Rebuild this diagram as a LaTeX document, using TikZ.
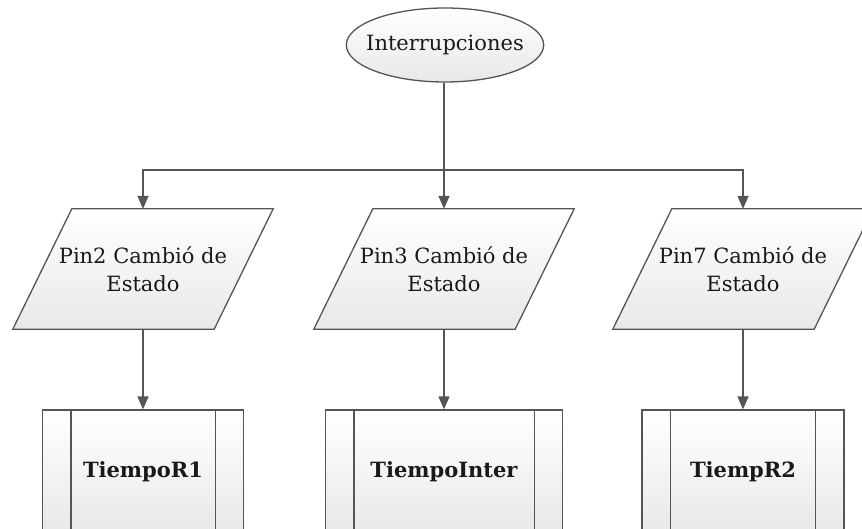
\documentclass[tikz,border=0pt]{standalone}
\usepackage{fontspec}
\setmainfont{DejaVu Serif}
\usetikzlibrary{shapes.geometric,arrows.meta,backgrounds}
\definecolor{linegray}{RGB}{85,85,85}
\definecolor{txt}{RGB}{25,25,25}
\begin{document}
\begin{tikzpicture}[x=1pt,y=-1pt,
  shaded/.style={draw=linegray, line width=1.3pt, top color=white, bottom color=black!9},
  base/.style={shaded, inner sep=0pt, text=txt, font=\fontsize{21}{28}\selectfont},
  ellip/.style={base, ellipse, inner xsep=-9pt, minimum width=196pt, minimum height=74pt},
  para/.style={rectangle, inner sep=0pt, text=txt, font=\fontsize{21}{28}\selectfont, minimum width=201pt, minimum height=120pt, align=center},
  proc/.style={base, rectangle, minimum height=124pt, font=\fontsize{21}{28}\selectfont\bfseries},
  ln/.style={draw=linegray, line width=1.5pt},
  arr/.style={ln, -{Triangle[length=13pt,width=11pt]}}
]
\useasboundingbox (0,0) rectangle (862,529);
\clip (0,0) rectangle (862,529);

\node[ellip] (int) at (445,45) {Interrupciones};

\node[para] (p1) at (143,269) {Pin2 Cambió de\\Estado};
\node[para] (p2) at (444,269) {Pin3 Cambió de\\Estado};
\node[para] (p3) at (743,269) {Pin7 Cambió de\\Estado};

\begin{pgfonlayer}{background}
\foreach \p in {p1,p2,p3}{
  \draw[shaded] ([xshift=29.5pt]\p.north west) -- ([xshift=29.5pt]\p.north east)
    -- ([xshift=-29.5pt]\p.south east) -- ([xshift=-29.5pt]\p.south west) -- cycle;
}
\end{pgfonlayer}

\node[proc, minimum width=201pt] (b1) at (143,472) {TiempoR1};
\node[proc, minimum width=237pt] (b2) at (444,472) {TiempoInter};
\node[proc, minimum width=202pt] (b3) at (743,472) {TiempR2};

\foreach \b in {b1,b2,b3}{
  \draw[draw=linegray, line width=1.3pt] ([xshift=29pt]\b.north west) -- ([xshift=29pt]\b.south west);
  \draw[draw=linegray, line width=1.3pt] ([xshift=-29pt]\b.north east) -- ([xshift=-29pt]\b.south east);
}

\coordinate (j) at (444,170);
\draw[ln] (int.south -| j) -- (j);
\draw[arr] (j) -| (p1.north);
\draw[arr] (j) -- (p2.north);
\draw[arr] (j) -| (p3.north);

\draw[arr] (p1.south) -- (b1.north);
\draw[arr] (p2.south) -- (b2.north);
\draw[arr] (p3.south) -- (b3.north);
\end{tikzpicture}
\end{document}
